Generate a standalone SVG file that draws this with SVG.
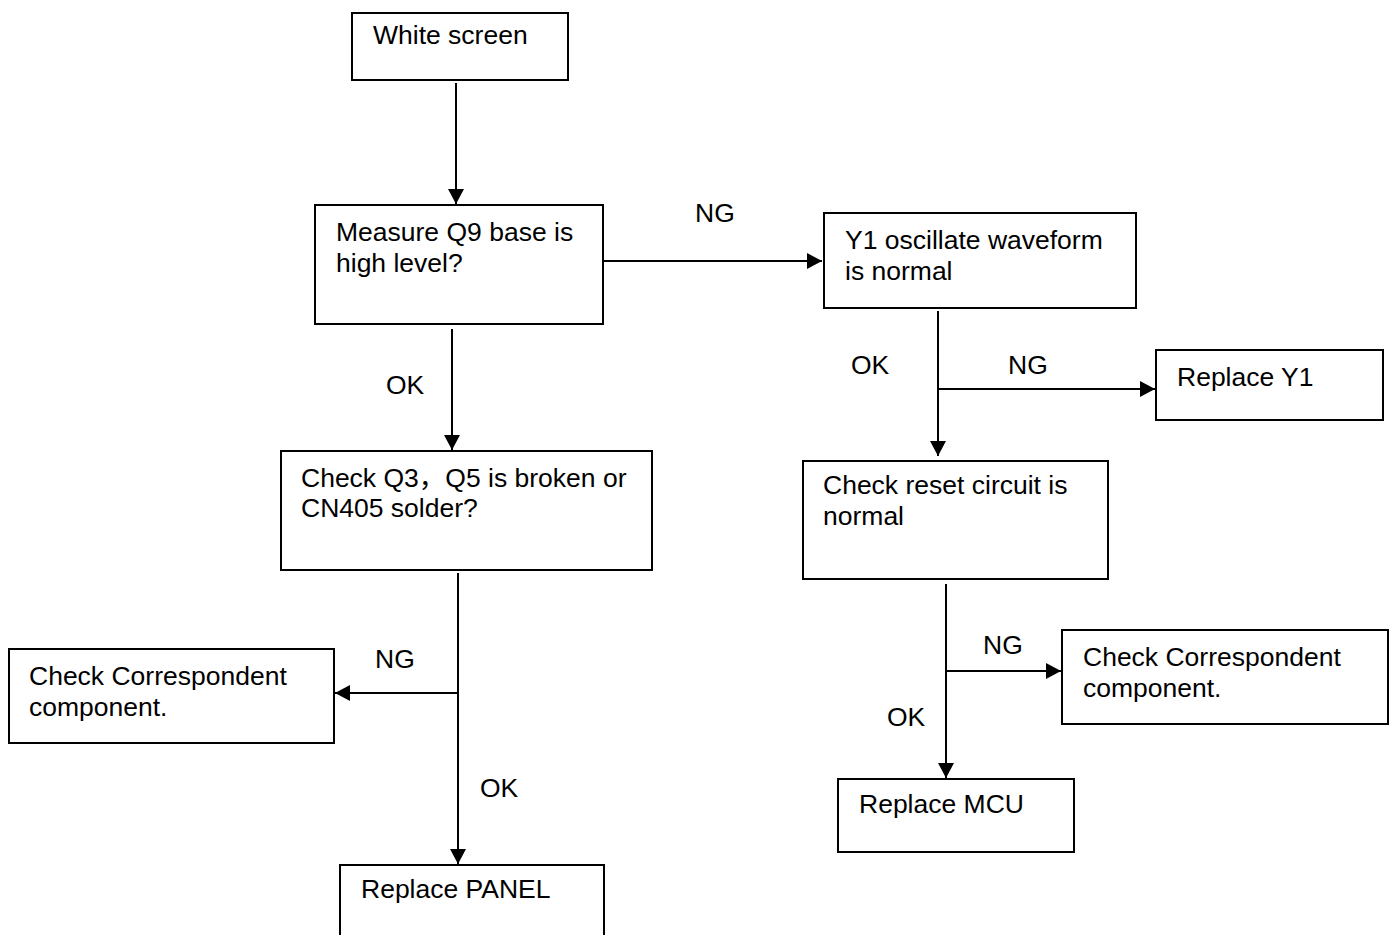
<svg xmlns="http://www.w3.org/2000/svg" width="1391" height="935" viewBox="0 0 1391 935">
<defs>
<style>
.box{fill:#fff;stroke:#000;stroke-width:2}
.t{font-family:"Liberation Sans","Noto Sans CJK SC",Arial,sans-serif;font-size:26.5px;fill:#000}
.c{fill:none;stroke:#000;stroke-width:2}
</style>
<marker id="ah" markerUnits="userSpaceOnUse" markerWidth="15" markerHeight="16" refX="15" refY="8" orient="auto">
<path d="M0,0 L15,8 L0,16 z" fill="#000"/>
</marker>
</defs>
<rect width="1391" height="935" fill="#fff"/>
<g id="connectors">
<line class="c" x1="456" y1="83" x2="456" y2="204" marker-end="url(#ah)"/>
<line class="c" x1="603" y1="261" x2="822" y2="261" marker-end="url(#ah)"/>
<line class="c" x1="452" y1="329" x2="452" y2="450" marker-end="url(#ah)"/>
<line class="c" x1="938" y1="311" x2="938" y2="456" marker-end="url(#ah)"/>
<line class="c" x1="938" y1="389" x2="1155" y2="389" marker-end="url(#ah)"/>
<line class="c" x1="458" y1="573" x2="458" y2="864" marker-end="url(#ah)"/>
<line class="c" x1="458" y1="693" x2="335" y2="693" marker-end="url(#ah)"/>
<line class="c" x1="946" y1="584" x2="946" y2="778" marker-end="url(#ah)"/>
<line class="c" x1="946" y1="671" x2="1061" y2="671" marker-end="url(#ah)"/>
<text class="t" x="695" y="222">NG</text>
<text class="t" x="386" y="394">OK</text>
<text class="t" x="851" y="374">OK</text>
<text class="t" x="1008" y="374">NG</text>
<text class="t" x="375" y="668">NG</text>
<text class="t" x="480" y="797">OK</text>
<text class="t" x="983" y="654">NG</text>
<text class="t" x="887" y="726">OK</text>
</g>
<g id="n1"><rect class="box" x="352" y="13" width="216" height="67"/><text class="t" x="373" y="44">White screen</text></g>
<g id="n2"><rect class="box" x="315" y="205" width="288" height="119"/><text class="t" x="336" y="241">Measure Q9 base is</text><text class="t" x="336" y="272">high level?</text></g>
<g id="n3"><rect class="box" x="824" y="213" width="312" height="95"/><text class="t" x="845" y="249">Y1 oscillate waveform</text><text class="t" x="845" y="280">is normal</text></g>
<g id="n4"><rect class="box" x="1156" y="350" width="227" height="70"/><text class="t" x="1177" y="386">Replace Y1</text></g>
<g id="n5"><rect class="box" x="281" y="451" width="371" height="119"/><text class="t" x="301" y="487">Check Q3，Q5 is broken or</text><text class="t" x="301" y="517">CN405 solder?</text></g>
<g id="n6"><rect class="box" x="803" y="461" width="305" height="118"/><text class="t" x="823" y="494">Check reset circuit is</text><text class="t" x="823" y="525">normal</text></g>
<g id="n7"><rect class="box" x="9" y="649" width="325" height="94"/><text class="t" x="29" y="685">Check Correspondent</text><text class="t" x="29" y="716">component.</text></g>
<g id="n8"><rect class="box" x="1062" y="630" width="326" height="94"/><text class="t" x="1083" y="666">Check Correspondent</text><text class="t" x="1083" y="697">component.</text></g>
<g id="n9"><rect class="box" x="838" y="779" width="236" height="73"/><text class="t" x="859" y="813">Replace MCU</text></g>
<g id="n10"><rect class="box" x="340" y="865" width="264" height="80"/><text class="t" x="361" y="898">Replace PANEL</text></g>
</svg>
